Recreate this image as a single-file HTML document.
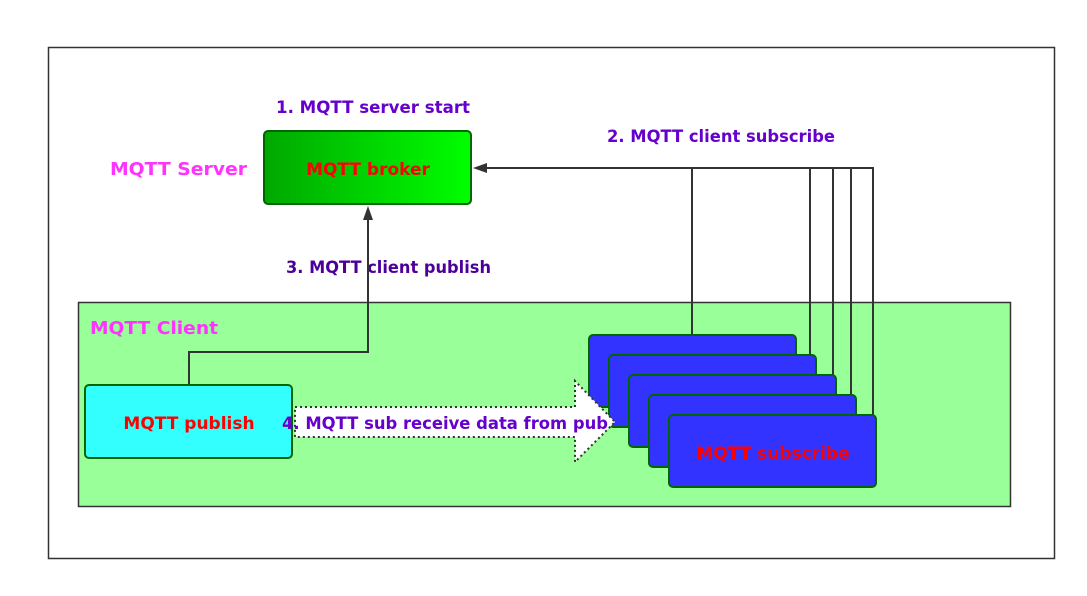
<!DOCTYPE html>
<html><head><style>
body{margin:0;width:1087px;height:591px;background:#fff;overflow:hidden}
svg text{font-family:"DejaVu Sans","Liberation Sans",sans-serif;font-weight:bold}
</style></head><body>
<svg width="1087" height="591" viewBox="0 0 1087 591">
<defs><linearGradient id="g" x1="0" x2="1"><stop offset="0" stop-color="#00a800"/><stop offset="1" stop-color="#00ff00"/></linearGradient></defs>
<rect x="48.5" y="47.5" width="1006" height="511" fill="#fff" stroke="#333" stroke-width="1.5"/>
<rect x="78.5" y="302.5" width="932" height="204" fill="#99ff99" stroke="#333" stroke-width="1.5"/>
<text x="110" y="175" fill="#ff33ff" font-size="17.5" textLength="137" lengthAdjust="spacingAndGlyphs">MQTT Server</text>
<text x="90" y="334" fill="#ff33ff" font-size="17.5" textLength="128" lengthAdjust="spacingAndGlyphs">MQTT Client</text>
<text x="276" y="113" fill="#6600cc" font-size="17" textLength="194" lengthAdjust="spacingAndGlyphs">1. MQTT server start</text>
<text x="607" y="142" fill="#6600cc" font-size="17" textLength="228" lengthAdjust="spacingAndGlyphs">2. MQTT client subscribe</text>
<text x="286" y="273" fill="#4c0099" font-size="17" textLength="205" lengthAdjust="spacingAndGlyphs">3. MQTT client publish</text>
<rect x="264" y="131" width="207" height="73" rx="4" fill="url(#g)" stroke="#006600" stroke-width="2"/>
<text x="368" y="175" fill="#ff0000" font-size="17" text-anchor="middle">MQTT broker</text>
<g stroke="#333" stroke-width="2" fill="none">
<polyline points="189,385 189,352 368,352 368,218"/>
<polyline points="485,168 873,168 873,415"/>
<line x1="692" y1="168" x2="692" y2="335"/>
<line x1="810" y1="168" x2="810" y2="355"/>
<line x1="833" y1="168" x2="833" y2="375"/>
<line x1="851" y1="168" x2="851" y2="395"/>
</g>
<polygon points="368,206 363,220 373,220" fill="#333"/>
<polygon points="473,168 487,163 487,173" fill="#333"/>
<rect x="85" y="385" width="207" height="73" rx="4" fill="#33ffff" stroke="#006600" stroke-width="2"/>
<text x="189" y="429" fill="#ff0000" font-size="17" text-anchor="middle">MQTT publish</text>
<g fill="#3333ff" stroke="#006600" stroke-width="2">
<rect x="589" y="335" width="207" height="72" rx="4"/>
<rect x="609" y="355" width="207" height="72" rx="4"/>
<rect x="629" y="375" width="207" height="72" rx="4"/>
<rect x="649" y="395" width="207" height="72" rx="4"/>
<rect x="669" y="415" width="207" height="72" rx="4"/>
</g>
<text x="773" y="459" fill="#ff0000" font-size="17" text-anchor="middle">MQTT subscribe</text>
<polygon points="295,407 575,407 575,381 615,422 575,462 575,437 295,437" fill="#fff" stroke="#333" stroke-width="2" stroke-dasharray="2,3"/>
<text x="282" y="429" fill="#6600cc" font-size="17" textLength="326" lengthAdjust="spacingAndGlyphs">4. MQTT sub receive data from pub</text>
</svg>
</body></html>
